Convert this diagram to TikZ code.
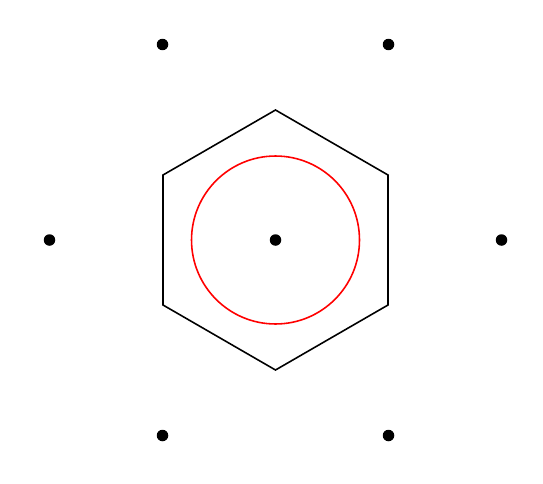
\documentclass[tikz,border=0pt]{standalone}
\begin{document}
\begin{tikzpicture}[x=0.02cm,y=-0.02cm,
  dot/.style={circle,fill=black,inner sep=0pt,minimum size=0.23cm},
  hexline/.style={draw=black,line width=0.9pt,line join=miter},
  redcirc/.style={draw=red,line width=0.9pt}]
\useasboundingbox (0,0) rectangle (543,483);
\coordinate (c) at (275.5,240);
\node[dot] (d0) at (275.5,240) {};
\node[dot] (d1) at (162.5,44.5) {};
\node[dot] (d2) at (388.5,44.5) {};
\node[dot] (d3) at (49.5,240) {};
\node[dot] (d4) at (501.5,240) {};
\node[dot] (d5) at (162.5,435.5) {};
\node[dot] (d6) at (388.5,435.5) {};
\draw[hexline] (275.5,110) -- (388,175) -- (388,305) -- (275.5,370) -- (163,305) -- (163,175) -- cycle;
\draw[redcirc] (c) circle (1.68cm);
\end{tikzpicture}
\end{document}
